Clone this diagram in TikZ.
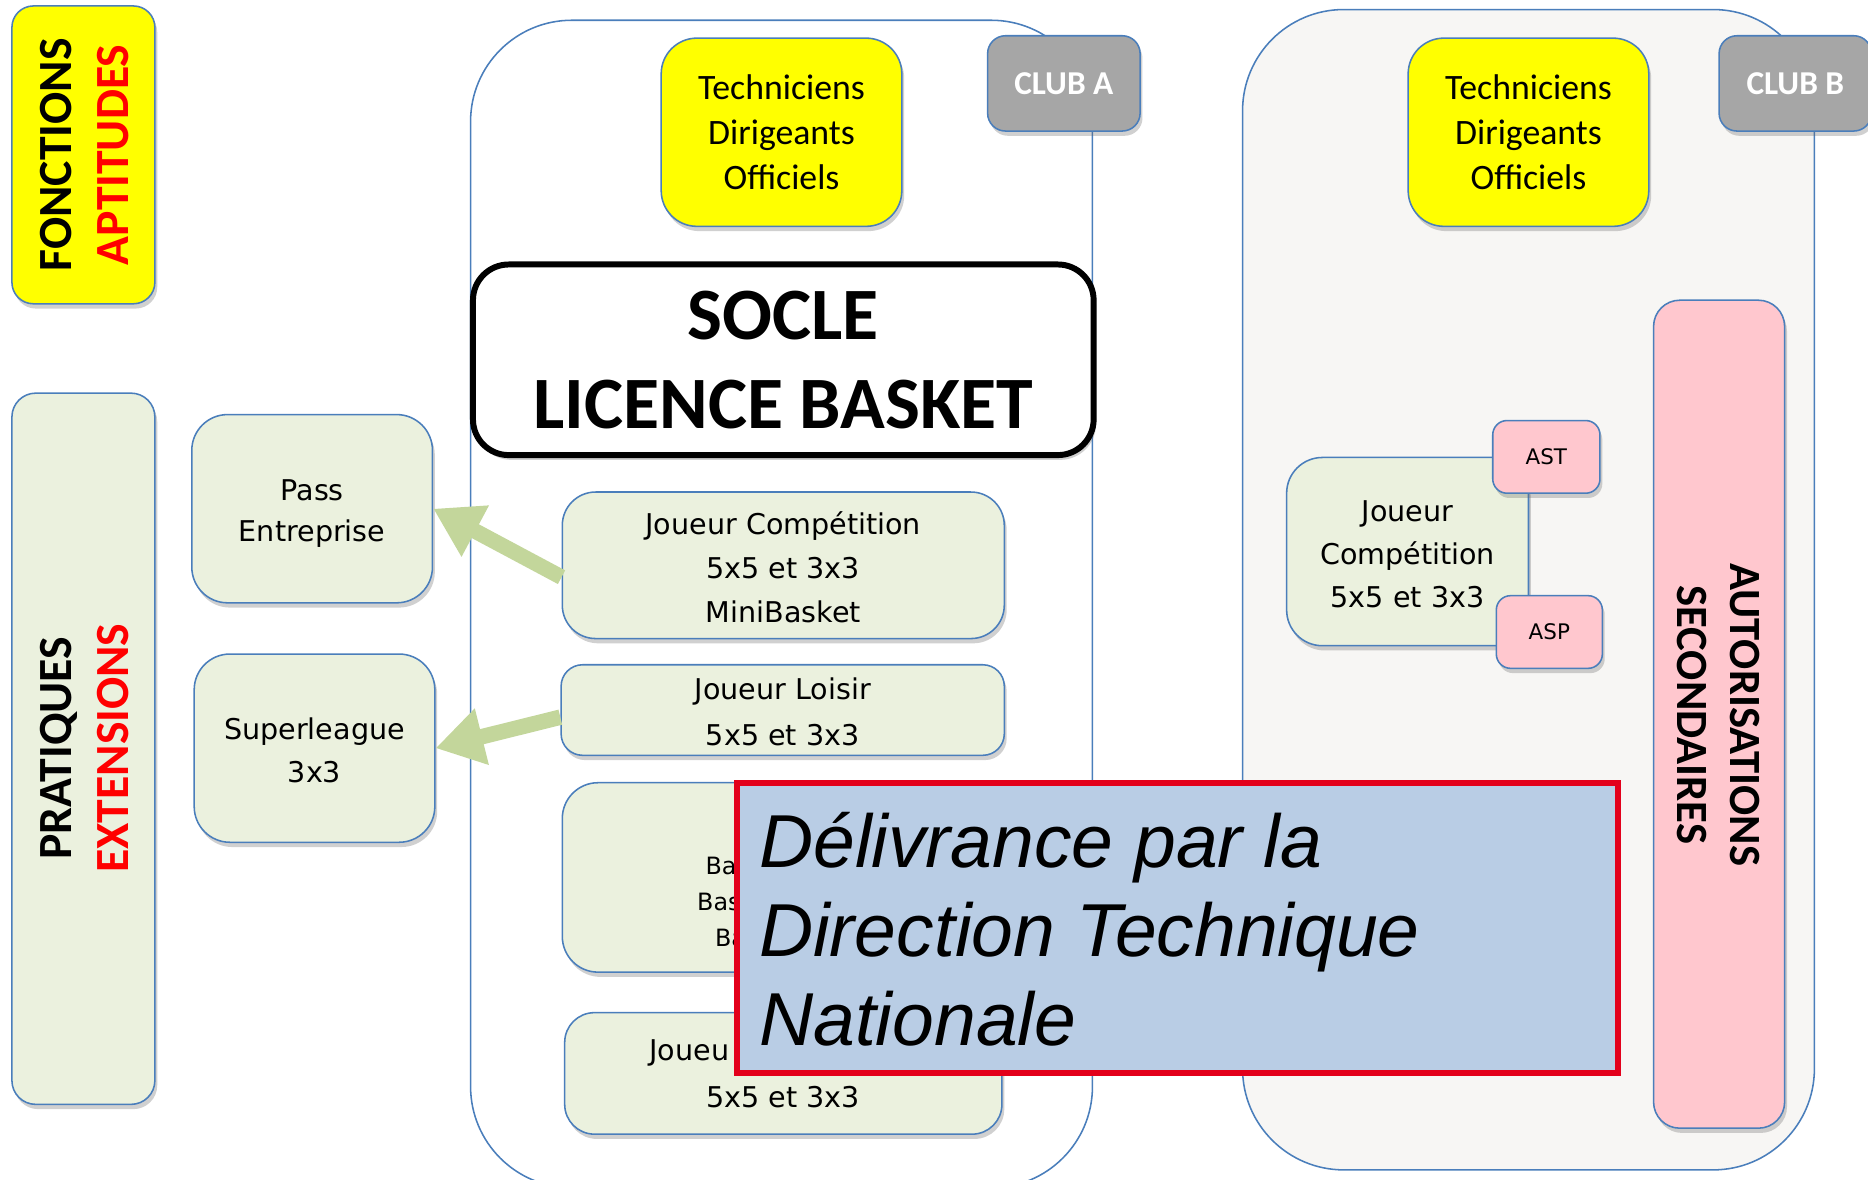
\documentclass[tikz,border=0pt]{standalone}
\usepackage{fontspec}
\setmainfont{DejaVu Sans}
\newfontfamily\calib{Carlito}
\newfontfamily\arialf{Liberation Sans}
\usetikzlibrary{arrows.meta,shadows}
\definecolor{bordblue}{RGB}{74,126,187}
\definecolor{lgreen}{RGB}{235,241,222}
\definecolor{pinkb}{RGB}{255,199,206}
\definecolor{tagg}{RGB}{166,166,166}
\definecolor{dtnblue}{RGB}{185,205,229}
\definecolor{dtnred}{RGB}{227,0,27}
\definecolor{arrg}{RGB}{195,214,155}
\definecolor{clubbfill}{RGB}{247,246,244}
\definecolor{ylw}{RGB}{255,255,0}
\tikzset{
  shad/.style={drop shadow={shadow xshift=2pt, shadow yshift=-4pt, opacity=0.3, fill=black!60}},
  bbox/.style={draw=bordblue, line width=1.3pt, inner sep=0pt, align=center, shad},
  cont/.style={draw=bordblue, line width=1.3pt, inner sep=0pt, rounded corners=85pt},
  gbox/.style={bbox, fill=lgreen, font=\fontsize{24}{36}\selectfont},
  txt/.style={inner sep=0pt, align=center, font=\fontsize{24}{36}\selectfont},
  ybox/.style={bbox, fill=ylw, rounded corners=30pt, minimum width=202pt, minimum height=158pt, font=\calib\fontsize{30}{38}\selectfont},
  pbox/.style={bbox, fill=pinkb},
  tagbox/.style={bbox, fill=tagg, rounded corners=15pt, minimum width=128pt, minimum height=80pt, text=white, font=\calib\bfseries\fontsize{28}{34}\selectfont},
  arr/.style={draw=arrg, line width=13pt, -{Triangle[length=40pt,width=46pt]}},
  rtext/.style={inner sep=0pt, align=center, font=\calib\bfseries\fontsize{40}{48}\selectfont}
}
\begin{document}
\begin{tikzpicture}[x=1pt,y=-1pt]
\fill[white] (0,0) rectangle (1568,990);
\useasboundingbox (0,0) rectangle (1568,990);

% club containers
\node[cont, fill=white, minimum width=522pt, minimum height=980pt] (clubA) at (656,507) {};
\node[cont, fill=clubbfill, minimum width=480pt, minimum height=974pt] (clubB) at (1283,495) {};

% club tags
\node[tagbox] (tagA) at (893,70) {CLUB A};
\node[tagbox] (tagB) at (1507,70) {CLUB B};

% left column
\node[bbox, fill=ylw, rounded corners=18pt, minimum width=120pt, minimum height=250pt] (fonc) at (70,130) {};
\node[rtext, rotate=90] (foncT) at (71,130) {FONCTIONS\\ \textcolor{red}{APTITUDES}};
\node[bbox, fill=lgreen, rounded corners=20pt, minimum width=120pt, minimum height=597pt] (prat) at (70,628.5) {};
\node[rtext, rotate=90] (pratT) at (71,628) {PRATIQUES\\ \textcolor{red}{EXTENSIONS}};

% extensions
\node[gbox, rounded corners=30pt, minimum width=202pt, minimum height=158pt] (pass) at (262,427) {};
\node[txt, font=\fontsize{24}{34}\selectfont] (passT) at (262,431) {Pass\\Entreprise};
\node[gbox, rounded corners=30pt, minimum width=202pt, minimum height=158pt] (super) at (264,628) {};
\node[txt] (superT) at (264,630) {Superleague\\3x3};

% club A content
\node[ybox] (techA) at (656,111) {Techniciens\\Dirigeants\\Officiels};
\node[bbox, draw=black, line width=5pt, fill=white, rounded corners=30pt, minimum width=521pt, minimum height=160pt, font=\calib\bfseries\fontsize{62}{75}\selectfont] (socle) at (657.5,302) {SOCLE\\LICENCE BASKET};
\node[gbox, rounded corners=28pt, minimum width=371pt, minimum height=123pt] (jcA) at (657.5,474.5) {};
\node[txt, font=\fontsize{24}{37}\selectfont] (jcAT) at (657.5,476.5) {Joueur Compétition\\5x5 et 3x3\\MiniBasket};
\node[gbox, rounded corners=18pt, minimum width=372pt, minimum height=76pt] (loisir) at (657,596) {};
\node[txt, font=\fontsize{24}{38}\selectfont] (loisirT) at (657,597.5) {Joueur Loisir\\5x5 et 3x3};
\node[gbox, rounded corners=30pt, minimum width=371pt, minimum height=159pt] (box3) at (657.5,736.5) {};
\node[inner sep=0pt, anchor=west, font=\fontsize{20}{30}\selectfont] (b3a) at (592,727) {Ba};
\node[inner sep=0pt, anchor=west, font=\fontsize{20}{30}\selectfont] (b3b) at (585,757) {Bas};
\node[inner sep=0pt, anchor=west, font=\fontsize{20}{30}\selectfont] (b3c) at (600,787) {Ba};
\node[gbox, rounded corners=25pt, minimum width=367pt, minimum height=102pt] (box4) at (657.5,901) {};
\node[inner sep=0pt, anchor=west, font=\fontsize{24}{36}\selectfont] (b4a) at (545,884) {Joueu};
\node[inner sep=0pt, font=\fontsize{24}{36}\selectfont] (b4b) at (657.5,921) {5x5 et 3x3};

% arrows
\draw[arr] ([yshift=-10pt]jcA.west) -- (pass.east);
\draw[arr] ([yshift=-6pt]loisir.west) -- (super.east);

% club B content
\node[ybox] (techB) at (1283,111) {Techniciens\\Dirigeants\\Officiels};
\node[pbox, rounded corners=22pt, minimum width=110pt, minimum height=695pt] (autor) at (1443,599.5) {};
\node[rtext, rotate=-90, font=\calib\bfseries\fontsize{37.5}{45}\selectfont] (autorT) at (1442.5,600) {AUTORISATIONS\\SECONDAIRES};
\node[gbox, rounded corners=30pt, minimum width=203pt, minimum height=158pt] (jcB) at (1181.5,463) {};
\node[txt] (jcBT) at (1181.5,465) {Joueur\\Compétition\\5x5 et 3x3};
\node[pbox, rounded corners=12pt, minimum width=90pt, minimum height=61pt, font=\fontsize{18}{22}\selectfont] (ast) at (1298,383.5) {AST};
\node[pbox, rounded corners=12pt, minimum width=89pt, minimum height=61pt, font=\fontsize{18}{22}\selectfont] (asp) at (1300.5,530.5) {ASP};

% DTN box
\node[draw=dtnred, line width=5pt, fill=dtnblue, inner sep=0pt, minimum width=739pt, minimum height=244pt] (dtn) at (988.5,779) {};
\node[inner sep=0pt, anchor=west, align=left, font=\arialf\itshape\fontsize{63}{75}\selectfont] (dtnT) at (637,780) {Délivrance par la\\Direction Technique\\Nationale};
\end{tikzpicture}
\end{document}
